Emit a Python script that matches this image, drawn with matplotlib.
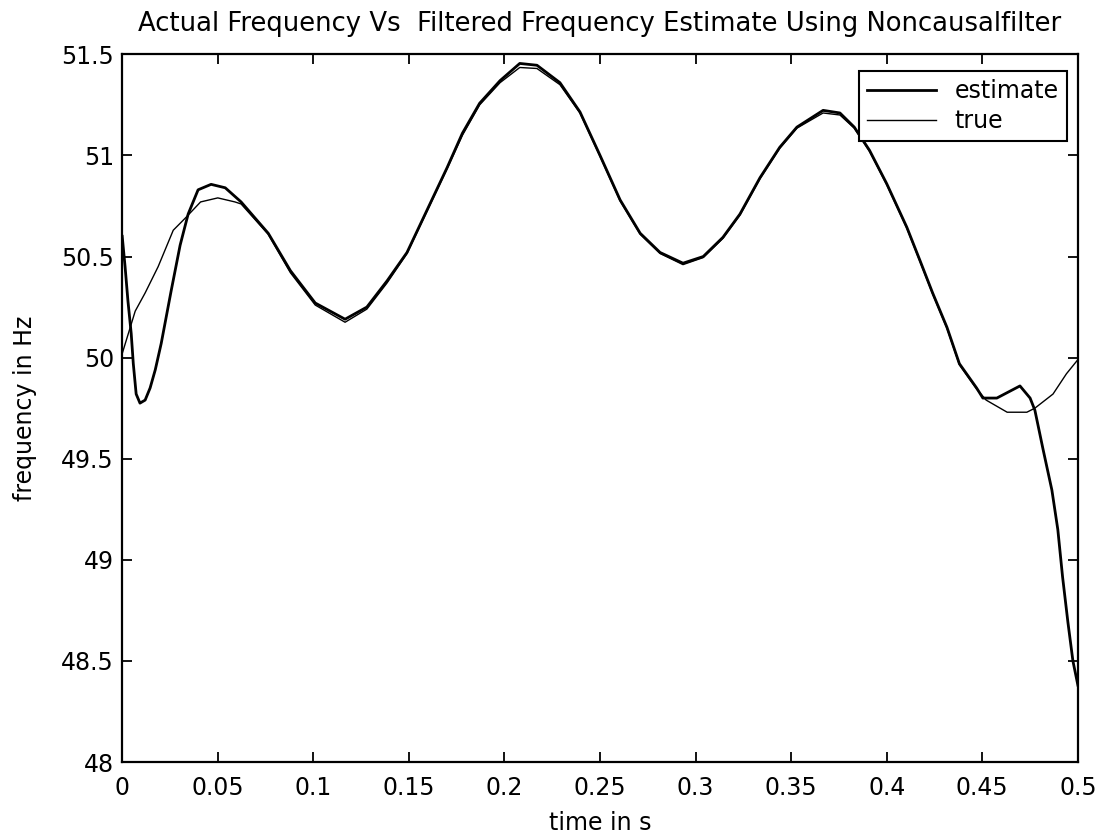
import matplotlib
matplotlib.use("Agg")
import matplotlib.pyplot as plt

plt.rcParams['font.family'] = ['DejaVu Sans']

# time axis (s) and frequency readings (Hz)
t_est = [0, 0.0015, 0.003, 0.0047, 0.0058, 0.0073, 0.0093, 0.012, 0.0146, 0.0173,
         0.0204, 0.0256, 0.0303, 0.0345, 0.0397, 0.0465, 0.0539, 0.0622, 0.0764, 0.088,
         0.101, 0.1166, 0.128, 0.1386, 0.149, 0.1595, 0.170, 0.178, 0.187, 0.1977,
         0.208, 0.217, 0.229, 0.2395, 0.25, 0.2605, 0.271, 0.2814, 0.2934, 0.304,
         0.3143, 0.3232, 0.3337, 0.344, 0.353, 0.3667, 0.3755, 0.383, 0.391, 0.400,
         0.4105, 0.4174, 0.424, 0.4315, 0.438, 0.447, 0.4503, 0.4576, 0.4697, 0.475,
         0.4775, 0.4817, 0.4864, 0.4895, 0.492, 0.4948, 0.4974, 0.5]
f_est = [50.6, 50.45, 50.28, 50.12, 49.97, 49.82, 49.775, 49.79, 49.85, 49.94,
         50.07, 50.33, 50.556, 50.71, 50.83, 50.857, 50.84, 50.77, 50.615, 50.43,
         50.27, 50.19, 50.25, 50.38, 50.52, 50.73, 50.94, 51.11, 51.258, 51.37,
         51.455, 51.446, 51.36, 51.215, 51.0, 50.78, 50.615, 50.52, 50.467, 50.5,
         50.595, 50.71, 50.89, 51.04, 51.14, 51.223, 51.21, 51.14, 51.025, 50.86,
         50.645, 50.48, 50.32, 50.15, 49.97, 49.85, 49.8, 49.8, 49.86, 49.8,
         49.74, 49.55, 49.345, 49.15, 48.915, 48.69, 48.5, 48.38]

t_true = [0, 0.0068, 0.012, 0.0188, 0.0267, 0.033, 0.041, 0.050, 0.059, 0.0622,
          0.0764, 0.088, 0.101, 0.1166, 0.128, 0.1386, 0.149, 0.1595, 0.170, 0.178,
          0.187, 0.1977, 0.208, 0.217, 0.229, 0.2395, 0.25, 0.2605, 0.271, 0.2814,
          0.2934, 0.304, 0.3143, 0.3232, 0.3337, 0.344, 0.353, 0.3667, 0.3755, 0.383,
          0.391, 0.400, 0.4105, 0.4174, 0.424, 0.4315, 0.438, 0.447, 0.452, 0.463,
          0.4733, 0.4775, 0.487, 0.494, 0.5]
f_true = [50.02, 50.23, 50.32, 50.45, 50.63, 50.69, 50.77, 50.79, 50.77, 50.76,
          50.61, 50.42, 50.26, 50.175, 50.24, 50.37, 50.515, 50.725, 50.935, 51.1,
          51.25, 51.36, 51.435, 51.43, 51.35, 51.21, 50.995, 50.775, 50.61, 50.515,
          50.46, 50.495, 50.59, 50.705, 50.885, 51.035, 51.135, 51.21, 51.2, 51.135,
          51.02, 50.855, 50.64, 50.475, 50.315, 50.145, 49.965, 49.845, 49.79, 49.73,
          49.73, 49.75, 49.82, 49.92, 49.99]

x_ticks = [0, 0.05, 0.1, 0.15, 0.2, 0.25, 0.3, 0.35, 0.4, 0.45, 0.5]
x_labels = ['0', '0.05', '0.1', '0.15', '0.2', '0.25', '0.3', '0.35', '0.4', '0.45', '0.5']
y_ticks = [48, 48.5, 49, 49.5, 50, 50.5, 51, 51.5]
y_labels = ['48', '48.5', '49', '49.5', '50', '50.5', '51', '51.5']

fig = plt.figure(figsize=(11.01, 8.36), dpi=100)
ax = fig.add_axes([0.111, 0.0885, 0.868, 0.8465])

ax.plot(t_est, f_est, color='black', linewidth=2.0, label='estimate')
ax.plot(t_true, f_true, color='black', linewidth=1.0, label='true')

ax.set_xlim(0, 0.5)
ax.set_ylim(48, 51.5)
ax.set_xticks(x_ticks)
ax.set_xticklabels(x_labels)
ax.set_yticks(y_ticks)
ax.set_yticklabels(y_labels)
ax.tick_params(direction='in', length=7, width=1.3, labelsize=17,
               top=True, right=True, pad=6)
ax.tick_params(axis='x', pad=10)

for s in ax.spines.values():
    s.set_linewidth(1.6)

ax.set_title('Actual Frequency Vs  Filtered Frequency Estimate Using Noncausalfilter',
             fontsize=18.6, pad=17)
ax.set_xlabel('time in s', fontsize=17, labelpad=8)
ax.set_ylabel('frequency in Hz', fontsize=17, labelpad=17)

leg = ax.legend(loc='upper right', bbox_to_anchor=(0.9885, 0.977), fontsize=17,
                fancybox=False, framealpha=1, edgecolor='black',
                handlelength=2.9, handletextpad=0.8, labelspacing=0.25,
                borderpad=0.35, borderaxespad=0)
leg.get_frame().set_linewidth(1.5)

fig.savefig('out.png', dpi=100)
